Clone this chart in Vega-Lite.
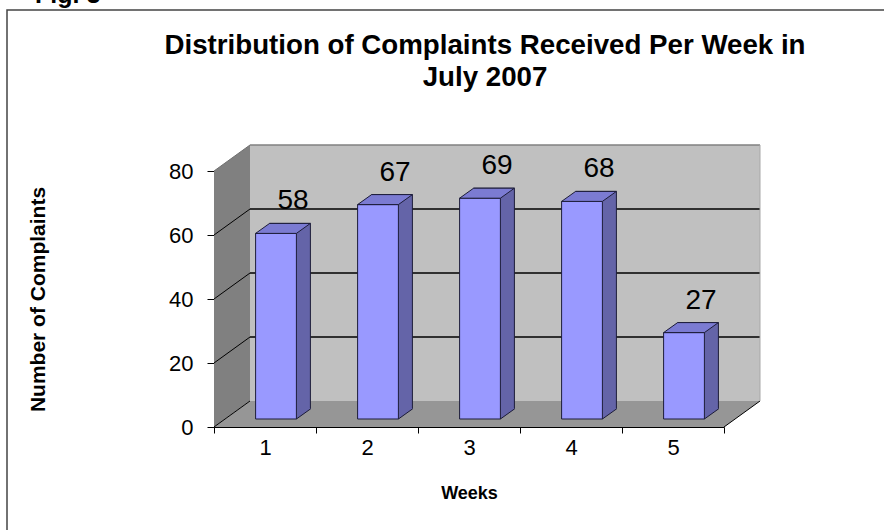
{
  "$schema": "https://vega.github.io/schema/vega-lite/v6.json",
  "width": 880,
  "height": 525,
  "autosize": "none",
  "padding": {"left": 7, "top": 10, "right": 0, "bottom": 0},
  "background": "white",
  "title": {
    "text": ["Distribution of Complaints Received Per Week in", "July 2007"],
    "font": "Liberation Sans",
    "fontSize": 27.7,
    "fontWeight": "bold",
    "color": "#000",
    "anchor": "middle",
    "frame": "group",
    "lineHeight": 32,
    "dx": 38,
    "offset": -109
  },
  "data": {
    "values": [
      {"week": "1", "complaints": 58},
      {"week": "2", "complaints": 67},
      {"week": "3", "complaints": 69},
      {"week": "4", "complaints": 68},
      {"week": "5", "complaints": 27}
    ]
  },
  "encoding": {
    "x": {
      "field": "week",
      "type": "ordinal",
      "scale": {"type": "band", "domain": ["1", "2", "3", "4", "5"], "range": [207, 717], "paddingInner": 0, "paddingOuter": 0},
      "axis": {
        "title": "Weeks",
        "orient": "bottom",
        "offset": -108,
        "labelAngle": 0,
        "grid": false,
        "domainColor": "#000",
        "tickColor": "#000",
        "tickSize": 6,
        "tickBand": "extent",
        "labelFontSize": 22,
        "labelColor": "#000",
        "labelPadding": 4,
        "titleFontSize": 18,
        "titleFontWeight": "bold",
        "titleColor": "#000",
        "titlePadding": 26
      }
    },
    "y": {
      "field": "complaints",
      "type": "quantitative",
      "scale": {"domain": [0, 80], "range": [417, 161], "nice": false},
      "axis": {
        "title": "Number of Complaints",
        "values": [0, 20, 40, 60, 80],
        "offset": -207,
        "grid": false,
        "domainColor": "#000",
        "tickColor": "#000",
        "tickSize": 7,
        "labelFontSize": 22,
        "labelColor": "#000",
        "labelPadding": 14,
        "titleFontSize": 21,
        "titleFontWeight": "bold",
        "titleColor": "#000",
        "titlePadding": 120
      }
    }
  },
  "layer": [
    {
      "mark": {"type": "rect", "fill": "#c0c0c0", "xOffset": 36, "x2Offset": 36, "yOffset": -26, "y2Offset": -26},
      "encoding": {"y": {"datum": 80, "type": "quantitative"}, "y2": {"datum": 0}}
    },
    {
      "data": {"values": [{"level": 0}]},
      "mark": {"type": "point", "shape": "M-51,0L-51,-256L-15,-282L-15,-26Z", "size": 4, "filled": true, "fill": "#808080", "strokeWidth": 0, "opacity": 1},
      "encoding": {"x": {"datum": "1", "type": "ordinal"}, "y": {"field": "level", "type": "quantitative"}}
    },
    {
      "data": {"values": [{"level": 0}]},
      "mark": {"type": "point", "shape": "M-51,0L459,0L495,-26L-15,-26Z", "size": 4, "filled": true, "fill": "#969696", "strokeWidth": 0, "opacity": 1},
      "encoding": {"x": {"datum": "1", "type": "ordinal"}, "y": {"field": "level", "type": "quantitative"}}
    },
    {
      "mark": {"type": "rect", "fillOpacity": 0, "stroke": "#000", "strokeWidth": 1, "xOffset": 36, "x2Offset": 36, "yOffset": -26, "y2Offset": -26},
      "encoding": {"y": {"datum": 20, "type": "quantitative"}, "y2": {"datum": 20}}
    },
    {
      "mark": {"type": "rect", "fillOpacity": 0, "stroke": "#000", "strokeWidth": 1, "xOffset": 36, "x2Offset": 36, "yOffset": -26, "y2Offset": -26},
      "encoding": {"y": {"datum": 40, "type": "quantitative"}, "y2": {"datum": 40}}
    },
    {
      "mark": {"type": "rect", "fillOpacity": 0, "stroke": "#000", "strokeWidth": 1, "xOffset": 36, "x2Offset": 36, "yOffset": -26, "y2Offset": -26},
      "encoding": {"y": {"datum": 60, "type": "quantitative"}, "y2": {"datum": 60}}
    },
    {
      "mark": {"type": "rect", "fillOpacity": 0, "stroke": "#808080", "strokeWidth": 1, "xOffset": 36, "x2Offset": 36, "yOffset": -26, "y2Offset": -26},
      "encoding": {"y": {"datum": 80, "type": "quantitative"}, "y2": {"datum": 80}}
    },
    {
      "data": {"values": [{"level": 0}, {"level": 20}, {"level": 40}, {"level": 60}, {"level": 80}]},
      "mark": {"type": "point", "shape": "M-51,0L-15,-26", "size": 4, "filled": false, "strokeWidth": 1, "opacity": 1},
      "encoding": {
        "x": {"datum": "1", "type": "ordinal"},
        "y": {"field": "level", "type": "quantitative"},
        "stroke": {"condition": {"test": "datum.level == 80", "value": "#707070"}, "value": "#000"}
      }
    },
    {
      "data": {"values": [{"level": 0}]},
      "mark": {"type": "point", "shape": "M51,0L87,-26", "size": 4, "filled": false, "stroke": "#000", "strokeWidth": 1, "opacity": 1},
      "encoding": {"x": {"datum": "5", "type": "ordinal"}, "y": {"field": "level", "type": "quantitative"}}
    },
    {
      "data": {"values": [{"level": 0}]},
      "mark": {"type": "point", "shape": "M87,-26L87,-282", "size": 4, "filled": false, "stroke": "#a8a8a8", "strokeWidth": 1, "opacity": 1},
      "encoding": {"x": {"datum": "5", "type": "ordinal"}, "y": {"field": "level", "type": "quantitative"}}
    },
    {
      "mark": {"type": "bar", "fill": "#6464a8", "stroke": "#1c1c38", "strokeWidth": 1, "width": {"band": 0.4}, "xOffset": 25, "x2Offset": 25, "yOffset": -18, "y2Offset": -18}
    },
    {
      "mark": {"type": "point", "shape": "M31.4,-8L45.4,-18L45.4,-19L31.4,-19Z", "size": 4, "filled": true, "fill": "#6464a8", "strokeWidth": 0, "opacity": 1},
      "encoding": {"y": {"datum": 0, "type": "quantitative"}}
    },
    {
      "mark": {"type": "bar", "fill": "#9999ff", "stroke": "#1c1c38", "strokeWidth": 1, "width": {"band": 0.4}, "xOffset": 11, "x2Offset": 11, "yOffset": -8, "y2Offset": -8}
    },
    {
      "mark": {"type": "point", "shape": "M31.4,-8L45.4,-18", "size": 4, "filled": false, "stroke": "#1c1c38", "strokeWidth": 1, "opacity": 1},
      "encoding": {"y": {"datum": 0, "type": "quantitative"}}
    },
    {
      "mark": {"type": "point", "shape": "M-9.4,-8L31.4,-8L45.4,-18L4.6,-18Z", "size": 4, "filled": true, "fill": "#7b7bd2", "stroke": "#1c1c38", "strokeWidth": 1, "opacity": 1}
    },
    {
      "mark": {"type": "text", "fontSize": 28, "font": "Liberation Sans", "color": "#000", "baseline": "middle", "dx": 28, "dy": -40},
      "encoding": {"text": {"field": "complaints", "type": "quantitative"}}
    },
    {
      "data": {"values": [{"label": "Fig. 3", "level": 80}]},
      "mark": {"type": "text", "fontSize": 25, "fontWeight": "bold", "font": "Liberation Sans", "color": "#000", "align": "left", "baseline": "alphabetic", "dx": -230, "dy": -168},
      "encoding": {"x": {"datum": "1", "type": "ordinal"}, "y": {"field": "level", "type": "quantitative"}, "text": {"field": "label", "type": "nominal"}}
    }
  ],
  "config": {
    "font": "Liberation Sans",
    "view": {"stroke": "#444", "strokeWidth": 1.5}
  }
}
